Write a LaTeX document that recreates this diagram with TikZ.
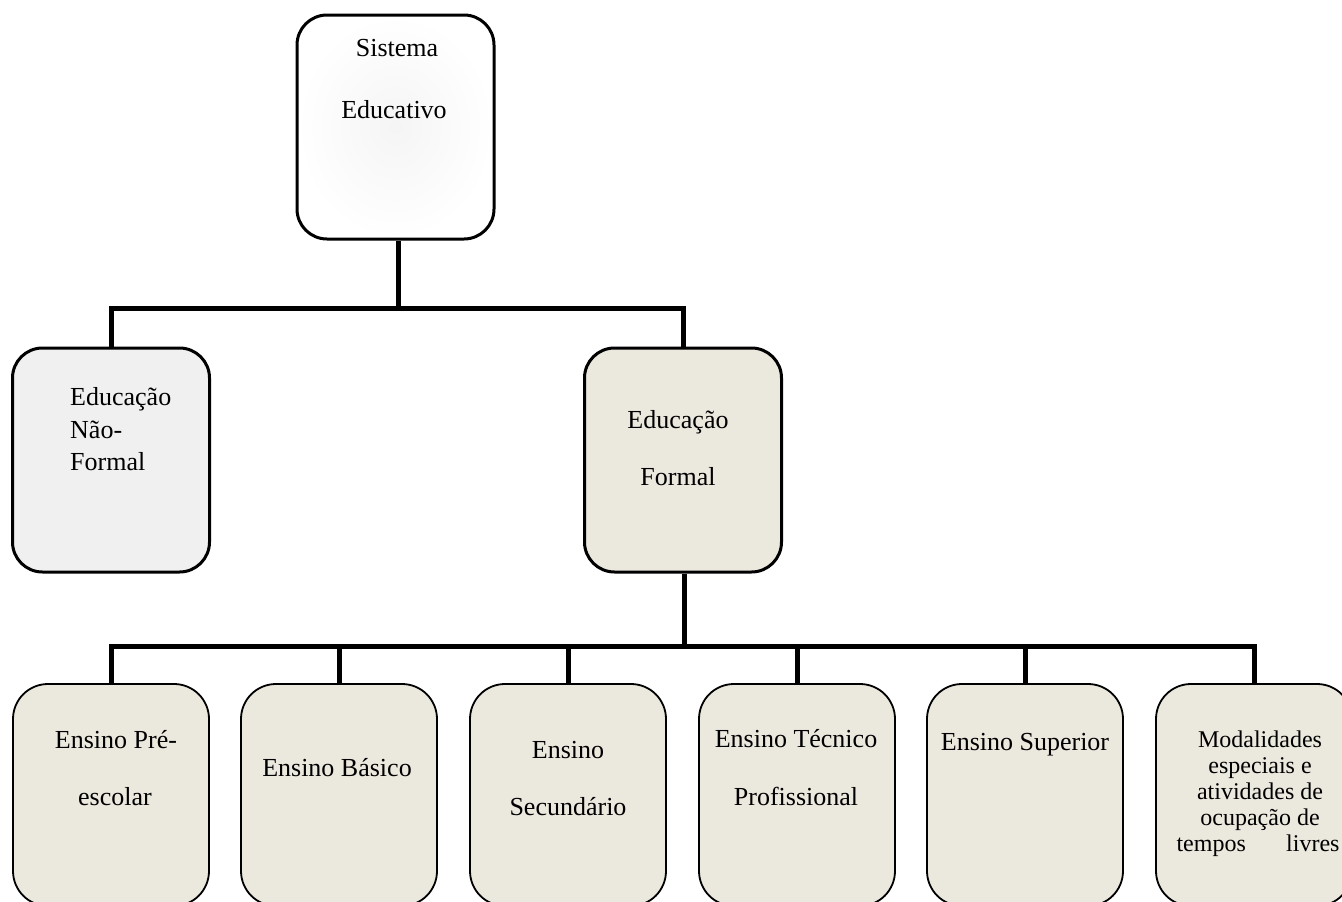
\documentclass[tikz,border=0pt]{standalone}
\usepackage{fontspec}
\setmainfont{Liberation Serif}
\definecolor{formalfill}{RGB}{235,232,222}
\definecolor{nfill}{RGB}{240,240,240}
\begin{document}
\begin{tikzpicture}[x=1pt,y=-1pt,
  bigbox/.style={draw=black, line width=3pt, rounded corners=30pt, minimum width=197pt, minimum height=224pt, inner sep=0pt},
  smallbox/.style={draw=black, line width=1.8pt, rounded corners=35pt, fill=formalfill, minimum width=196pt, minimum height=222pt, inner sep=0pt},
  conn/.style={line width=5pt, draw=black},
  txt/.style={anchor=base, inner sep=0pt, font=\fontsize{26}{30}\selectfont},
  stxt/.style={anchor=base, inner sep=0pt, font=\fontsize{24}{28}\selectfont}]
\useasboundingbox (0,0) rectangle (1342,902);
% top box
\node[bigbox, shade, inner color=black!4, outer color=white] (se) at (395.5,127) {};
\node[txt] (se1) at (397,56) {Sistema};
\node[txt] (se2) at (394,118) {Educativo};
% second level
\node[bigbox, fill=nfill] (nf) at (111,460) {};
\node[txt, anchor=base west] (nf1) at (70,405) {Educação};
\node[txt, anchor=base west] (nf2) at (70,438) {Não-};
\node[txt, anchor=base west] (nf3) at (70,470) {Formal};
\node[bigbox, fill=formalfill] (fo) at (683,460) {};
\node[txt] (fo1) at (678,428) {Educação};
\node[txt] (fo2) at (678,485) {Formal};
% bottom boxes
\node[smallbox] (b1) at (111,795) {};
\node[smallbox] (b2) at (339,795) {};
\node[smallbox] (b3) at (568,795) {};
\node[smallbox] (b4) at (797,795) {};
\node[smallbox] (b5) at (1025,795) {};
\node[smallbox] (b6) at (1254,795) {};
\node[txt] (b1a) at (116,748) {Ensino Pré-};
\node[txt] (b1b) at (115,805) {escolar};
\node[txt] (b2a) at (337,776) {Ensino Básico};
\node[txt] (b3a) at (568,758) {Ensino};
\node[txt] (b3b) at (568,815) {Secundário};
\node[txt] (b4a) at (796,747) {Ensino Técnico};
\node[txt] (b4b) at (796,805) {Profissional};
\node[txt] (b5a) at (1025,750) {Ensino Superior};
\node[stxt] (b6a) at (1260,747) {Modalidades};
\node[stxt] (b6b) at (1260,773) {especiais e};
\node[stxt] (b6c) at (1260,799) {atividades de};
\node[stxt] (b6d) at (1260,825) {ocupação de};
\node[stxt] (b6e) at (1258,851) {\makebox[163pt][s]{tempos\hfill livres}};
% connectors
\coordinate (j1) at (398,308);
\coordinate (j2) at (684,646);
\draw[conn] (se.south -| j1) -- (j1);
\draw[conn] (nf.north) |- (j1) -| (fo.north);
\draw[conn] (fo.south -| j2) -- (j2);
\draw[conn] (b1.north) |- (b6.north |- j2) -- (b6.north);
\draw[conn] (b2.north) -- (b2.north |- j2);
\draw[conn] (b3.north) -- (b3.north |- j2);
\draw[conn] (b4.north) -- (b4.north |- j2);
\draw[conn] (b5.north) -- (b5.north |- j2);
\end{tikzpicture}
\end{document}
